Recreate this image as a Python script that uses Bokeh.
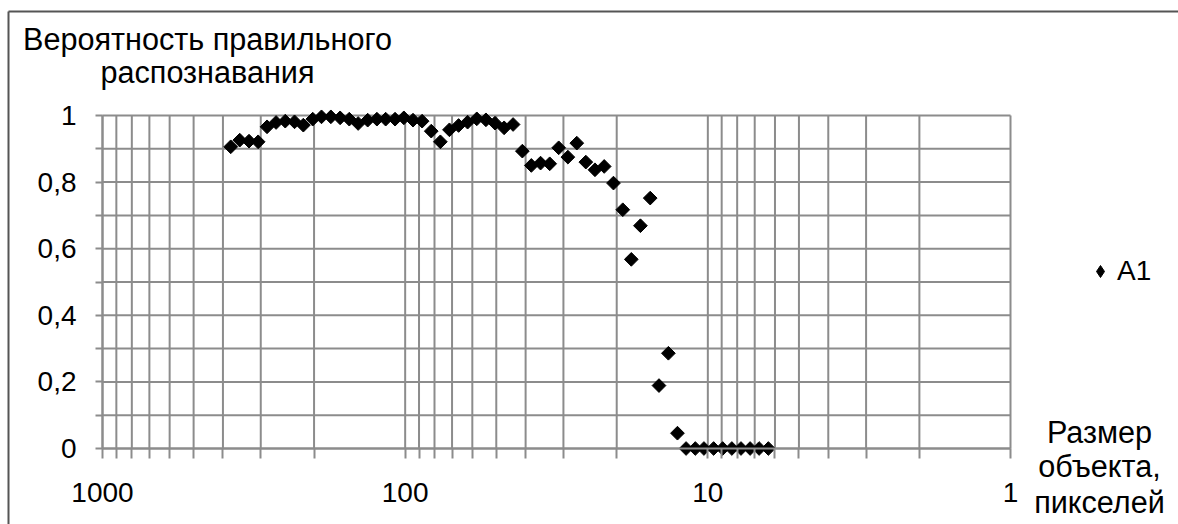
import numpy as np
from bokeh.plotting import figure
from bokeh.models import (Range1d, FixedTicker, CustomJSTickFormatter, Label,
                          Legend, LegendItem)
from bokeh.embed import file_html
from bokeh.resources import INLINE

# ---- data ----
size_px = [377, 352, 328, 306, 286, 267, 249, 232, 217, 202,
           189, 176, 164, 153, 143, 133, 124, 116, 108, 101,
           94.2, 87.9, 82.0, 76.5, 71.4, 66.6, 62.2, 58.0, 54.1, 50.5,
           47.1, 44.0, 41.0, 38.3, 35.7, 33.3, 31.1, 29.0, 27.1, 25.3,
           23.6, 22.0, 20.5, 19.1, 17.9, 16.7, 15.5, 14.5, 13.5, 12.6,
           11.8, 11.0, 10.3, 9.57, 8.93, 8.33, 7.77, 7.25, 6.77, 6.31]
prob_a1 = [0.906, 0.926, 0.923, 0.921, 0.966, 0.979, 0.983, 0.981, 0.971, 0.989,
           0.996, 0.996, 0.993, 0.989, 0.976, 0.986, 0.989, 0.989, 0.989, 0.993,
           0.986, 0.983, 0.953, 0.921, 0.957, 0.970, 0.980, 0.990, 0.987, 0.977,
           0.963, 0.973, 0.893, 0.850, 0.857, 0.855, 0.903, 0.875, 0.917, 0.860,
           0.837, 0.847, 0.797, 0.717, 0.568, 0.669, 0.752, 0.189, 0.286, 0.046,
           0, 0, 0, 0, 0, 0, 0, 0, 0, 0]
series_name = "A1"
x_major = [1, 10, 100, 1000]
x_minor = [m * d for d in (1, 10, 100) for m in range(2, 10)]
y_major = [0, 0.2, 0.4, 0.6, 0.8, 1.0]
y_minor = [0.1, 0.3, 0.5, 0.7, 0.9]
y_title = ["Вероятность правильного", "распознавания"]
x_title = ["Размер", "объекта,", "пикселей"]

FONT = "Liberation Sans"
GRID = "#8c8c8c"
W, H = 1178, 524
# plot area in page pixels: 1000 -> 102, 1 -> 1010 ; 1 -> 115, 0 -> 448
dec = (1010 - 102) / 3.0
unit = 448 - 115
x_start = 10 ** (3 + 102 / dec)
x_end = 10 ** (-(W - 1010) / dec)
y_end = 1 + 115 / unit
y_start = -(H - 448) / unit

p = figure(width=W, height=H, x_axis_type="log",
           x_range=Range1d(x_start, x_end), y_range=Range1d(y_start, y_end),
           output_backend="svg", toolbar_location=None, min_border=0)
p.outline_line_color = None
p.background_fill_color = "white"
p.border_fill_color = "white"
p.xgrid.visible = False
p.ygrid.visible = False

# grid lines of the plot area
x_lines = x_major + x_minor
y_lines = y_major + y_minor
p.segment(x0=x_lines, y0=[0] * len(x_lines), x1=x_lines, y1=[1] * len(x_lines),
          line_color=GRID, line_width=2)
p.segment(x0=[1] * len(y_lines), y0=y_lines, x1=[1000] * len(y_lines), y1=y_lines,
          line_color=GRID, line_width=2)

# chart-area border (left and top edges visible in the crop)
bx = 10 ** (3 + (102 - 8) / dec)
by = 1 + (115 - 11) / unit
p.segment(x0=[bx, bx], y0=[y_start, by], x1=[bx, x_end], y1=[by, by],
          line_color="#555555", line_width=2)

xt = FixedTicker(ticks=x_major, minor_ticks=x_minor)
yt = FixedTicker(ticks=y_major, minor_ticks=y_minor)
p.xaxis.ticker = xt
p.yaxis.ticker = yt
p.xaxis.fixed_location = 0
p.yaxis.fixed_location = 1000
p.xaxis.bounds = (1, 1000)
p.yaxis.bounds = (0, 1)

p.xaxis.formatter = CustomJSTickFormatter(code="return String(Math.round(tick));")
p.yaxis.formatter = CustomJSTickFormatter(
    code="return String(Math.round(tick*10)/10).replace('.', ',');")

for ax, tout, stand in ((p.xaxis, 10, 24), (p.yaxis, 7, 19)):
    ax.axis_line_color = GRID
    ax.axis_line_width = 2
    ax.major_tick_line_color = GRID
    ax.major_tick_line_width = 2
    ax.minor_tick_line_color = GRID
    ax.minor_tick_line_width = 2
    ax.major_tick_in = 0
    ax.minor_tick_in = 0
    ax.major_tick_out = tout
    ax.minor_tick_out = tout
    ax.major_label_text_font = FONT
    ax.major_label_text_font_size = "28px"
    ax.major_label_text_color = "black"
    ax.major_label_standoff = stand

# legend swatch renderer (the legend draws markers unrotated, so it uses a
# diamond marker); it sits hidden underneath the first data point
r_key = p.scatter(size_px[:1], prob_a1[:1], marker="diamond", size=9,
                  fill_color="black", line_color="black")
r = p.scatter(size_px, prob_a1, marker="square", angle=np.pi / 4,
              size=9.7, fill_color="black", line_color="black")

legend = Legend(items=[LegendItem(label=series_name, renderers=[r_key])],
                location=(1085, 237), padding=0, margin=0,
                border_line_color=None, background_fill_alpha=0,
                label_text_font=FONT, label_text_font_size="28px",
                label_text_color="black",
                glyph_width=30, glyph_height=30, label_standoff=2)
p.add_layout(legend)

for txt, py in zip(y_title, (38, 71)):
    p.add_layout(Label(x=10 ** (3 - (207 - 102) / dec), y=1 + (115 - py) / unit,
                       text=txt, text_align="center", text_baseline="middle",
                       text_font=FONT, text_font_size="30.6px", text_color="black"))
for txt, py in zip(x_title, (431, 465, 501)):
    p.add_layout(Label(x=10 ** (-(1099 - 1010) / dec), y=(448 - py) / unit, text=txt,
                       text_align="center", text_baseline="middle",
                       text_font=FONT, text_font_size="30.6px", text_color="black"))

open("out.html", "w").write(file_html(p, INLINE))
